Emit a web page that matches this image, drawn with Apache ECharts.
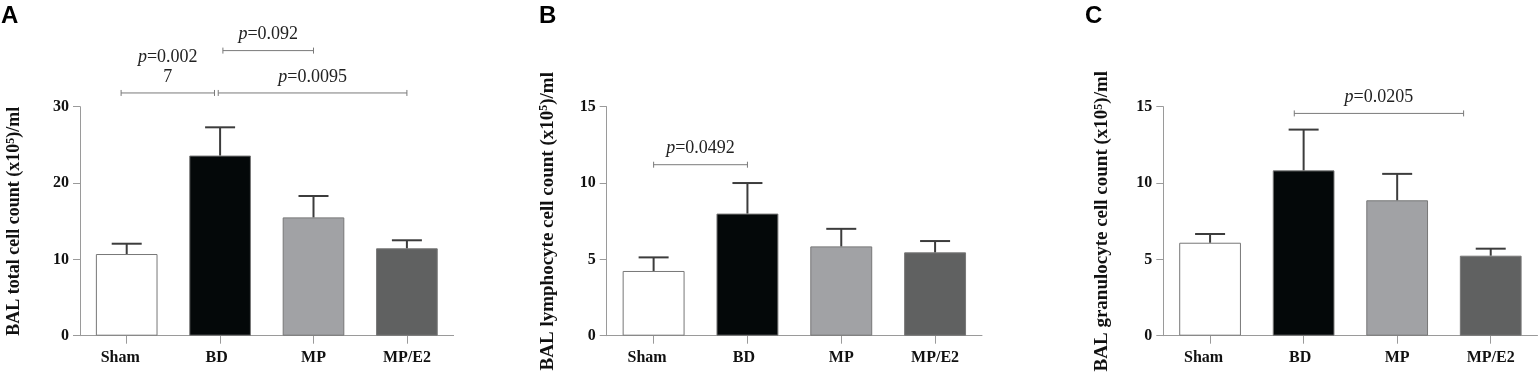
<!DOCTYPE html>
<html>
<head>
<meta charset="utf-8">
<script src="https://cdn.jsdelivr.net/npm/echarts@6/dist/echarts.min.js"></script>
<style>
  html, body { margin: 0; padding: 0; background: #fff; }
  #chart { width: 1538px; height: 372px; }
</style>
</head>
<body>
<div id="chart"></div>
<script>
const groups = ['Sham', 'BD', 'MP', 'MP/E2']
const barColors = ['#ffffff', '#040809', '#a1a2a5', '#606161']

// BAL total cell count
const totalMean = [10.7, 23.6, 15.5, 11.45]
const totalSem = [1.35, 3.7, 2.8, 1.05]
// BAL lymphocyte cell count
const lymphMean = [4.24, 8.0, 5.85, 5.46]
const lymphSem = [0.89, 2.0, 1.15, 0.74]
// BAL granulocyte cell count
const granMean = [6.09, 10.83, 8.87, 5.24]
const granSem = [0.57, 2.67, 1.73, 0.46]

// comparisons: [from group, to group, y value, p text]
const totalBrackets = [[-0.06, 0.94, 31.8, '0.002\n7'], [0.98, 3.0, 31.8, '0.0095'], [1.03, 2.0, 37.35, '0.092']]
const lymphBrackets = [[0, 1, 11.2, '0.0492']]
const granBrackets = [[0.9, 2.71, 14.56, '0.0205']]

const serif = '"Liberation Serif", "DejaVu Serif", serif'
const axisGray = '#9a9a9a'

const chart = echarts.init(document.getElementById('chart'))

function barSeries(idx, means) {
  return {
    type: 'bar',
    xAxisIndex: idx,
    yAxisIndex: idx,
    barWidth: '66%',
    data: means.map((v, i) => ({
      value: v,
      itemStyle: { color: barColors[i], borderColor: '#777', borderWidth: 1 }
    })),
    silent: true
  }
}

function errorSeries(idx, means, sems) {
  return {
    type: 'custom',
    xAxisIndex: idx,
    yAxisIndex: idx,
    silent: true,
    z: 3,
    data: means.map((v, i) => [i, v, sems[i]]),
    renderItem: function (params, api) {
      const base = api.coord([api.value(0), api.value(1)])
      const top = api.coord([api.value(0), api.value(1) + api.value(2)])
      const style = { stroke: '#3c3c3c', lineWidth: 2 }
      return {
        type: 'group',
        children: [
          { type: 'line', shape: { x1: base[0], y1: base[1], x2: top[0], y2: top[1] }, style: style },
          { type: 'line', shape: { x1: top[0] - 15, y1: top[1], x2: top[0] + 15, y2: top[1] }, style: style }
        ]
      }
    }
  }
}

function bracketSeries(idx, brackets) {
  return {
    type: 'custom',
    xAxisIndex: idx,
    yAxisIndex: idx,
    silent: true,
    clip: false,
    data: brackets.map(b => [0, b[2]]),
    renderItem: function (params, api) {
      const b = brackets[params.dataIndex]
      const p0 = api.coord([0, b[2]])
      const p1 = api.coord([1, b[2]])
      const step = p1[0] - p0[0]
      const xa = p0[0] + b[0] * step
      const xb = p0[0] + b[1] * step
      const y = p0[1]
      const ls = { stroke: '#7a7a7a', lineWidth: 1 }
      const lines = b[3].split('\n')
      let txt = '{i|p}{n|=' + lines[0] + '}'
      for (let k = 1; k < lines.length; k++) txt += '\n{n|' + lines[k] + '}'
      return {
        type: 'group',
        children: [
          { type: 'line', shape: { x1: xa, y1: y, x2: xb, y2: y }, style: ls },
          { type: 'line', shape: { x1: xa, y1: y - 3, x2: xa, y2: y + 3 }, style: ls },
          { type: 'line', shape: { x1: xb, y1: y - 3, x2: xb, y2: y + 3 }, style: ls },
          {
            type: 'text',
            style: {
              x: (xa + xb) / 2,
              y: y - 6,
              text: txt,
              align: 'center',
              verticalAlign: 'bottom',
              fill: '#222',
              rich: {
                i: { fontFamily: serif, fontSize: 18, fontStyle: 'italic', lineHeight: 20, fill: '#222' },
                n: { fontFamily: serif, fontSize: 18, lineHeight: 20, fill: '#222' }
              }
            }
          }
        ]
      }
    }
  }
}

function yAxisCfg(idx, max, interval, label, nameSize, nameGap) {
  return {
    type: 'value',
    gridIndex: idx,
    min: 0,
    max: max,
    interval: interval,
    splitLine: { show: false },
    axisLine: { show: true, lineStyle: { color: axisGray, width: 1 } },
    axisTick: { show: true, length: 7, lineStyle: { color: axisGray } },
    axisLabel: { color: '#111', fontFamily: serif, fontWeight: 'bold', fontSize: 16, margin: 11 },
    name: '{t|BAL ' + label + ' cell count (x10}{s|5}{t|)/ml}',
    nameLocation: 'middle',
    nameRotate: 90,
    nameGap: nameGap,
    nameTextStyle: {
      rich: {
        t: { fontFamily: serif, fontWeight: 'bold', fontSize: nameSize, color: '#111' },
        s: { fontFamily: serif, fontWeight: 'bold', fontSize: 12, color: '#111', verticalAlign: 'top' }
      }
    }
  }
}

const catFont = { fontFamily: serif, fontWeight: 'bold', fontSize: 16, color: '#111' }

function xAxisCfg(idx) {
  return {
    type: 'category',
    gridIndex: idx,
    data: groups,
    axisLine: { show: true, lineStyle: { color: axisGray, width: 1 } },
    axisTick: { show: true, alignWithLabel: true, length: 8, lineStyle: { color: axisGray } },
    axisLabel: Object.assign({
      margin: 14,
      formatter: (v, i) => i === 0 ? '{a|' + v + '}' : i === 1 ? '{b|' + v + '}' : v,
      rich: {
        a: Object.assign({ padding: [0, 13, 0, 0] }, catFont),
        b: Object.assign({ padding: [0, 7, 0, 0] }, catFont)
      }
    }, catFont)
  }
}

const letterStyle = { fontFamily: '"Liberation Sans", Arial, sans-serif', fontWeight: 'bold', fontSize: 24, fill: '#000' }

const option = {
  animation: false,
  backgroundColor: '#fff',
  grid: [
    { left: 80, right: 1084.4, top: 106.7, bottom: 36.3, outerBoundsMode: 'none' },
    { left: 606.7, right: 556, top: 106.7, bottom: 36.3, outerBoundsMode: 'none' },
    { left: 1163.3, right: 0.5, top: 106.7, bottom: 36.3, outerBoundsMode: 'none' }
  ],
  xAxis: [xAxisCfg(0), xAxisCfg(1), xAxisCfg(2)],
  yAxis: [
    yAxisCfg(0, 30, 10, 'total', 18, 57),
    yAxisCfg(1, 15, 5, 'lymphocyte', 19, 49.5),
    yAxisCfg(2, 15, 5, 'granulocyte', 19, 51.5)
  ],
  graphic: [
    { type: 'text', left: 1, top: 4, style: Object.assign({ text: 'A' }, letterStyle) },
    { type: 'text', left: 539, top: 4, style: Object.assign({ text: 'B' }, letterStyle) },
    { type: 'text', left: 1085, top: 4, style: Object.assign({ text: 'C' }, letterStyle) }
  ],
  series: [
    barSeries(0, totalMean), errorSeries(0, totalMean, totalSem), bracketSeries(0, totalBrackets),
    barSeries(1, lymphMean), errorSeries(1, lymphMean, lymphSem), bracketSeries(1, lymphBrackets),
    barSeries(2, granMean), errorSeries(2, granMean, granSem), bracketSeries(2, granBrackets)
  ]
}

chart.setOption(option)
window.addEventListener('resize', () => chart.resize())
</script>
</body>
</html>
